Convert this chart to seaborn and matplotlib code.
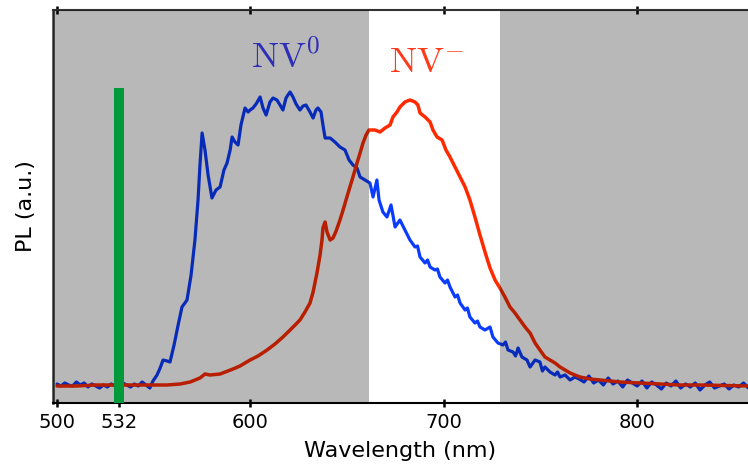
import matplotlib
matplotlib.use('Agg')
import matplotlib.pyplot as plt
import seaborn as sns
import pandas as pd
import numpy as np

# NV0 spectrum (blue) - wavelength in nm, PL in arbitrary units
nv0_baseline_nm = list(range(500, 550, 2))
nv0_baseline_pl = [2, 0, 3, 1, 0, 4, 1, 3, -1, 2, 0, -2, 1, -1, 2, 0, -2, 3, 1, -1, 2, 0, 4, 1, -2]
nv0_main_nm = [549.6, 551.7, 553.3, 554.8, 556.9, 558.4, 560.5, 562.6, 564.6, 567.2,
               569.3, 571.3, 572.9, 573.9, 575.0, 576.5, 578.1, 580.1, 582.2, 584.3,
               586.3, 587.9, 589.5, 590.5, 592.0, 593.6, 595.1, 597.2, 598.8, 599.8,
               601.3, 602.9, 605.0, 606.5, 608.1, 610.1, 611.7, 613.7, 615.3, 616.8,
               618.4, 619.4, 620.5, 622.0, 623.6, 625.6, 627.2, 628.7, 630.8, 632.4,
               633.9, 634.9, 636.5, 637.5, 638.6, 641.2, 643.7, 646.3, 648.9, 651.0,
               653.0, 655.1, 656.7, 659.2, 661.8, 663.4, 665.4, 666.5, 668.5, 670.6,
               672.7, 674.8, 677.3, 679.9, 682.5, 685.1, 686.4, 687.7, 690.3, 691.6,
               692.9, 695.4, 696.7, 698.0, 700.6, 701.9, 703.2, 705.8, 707.1, 708.4,
               711.0, 712.2, 713.5, 716.1, 717.4, 718.7, 721.3, 723.9, 725.4, 728.0,
               730.6, 731.9, 733.2, 735.8, 737.1, 738.4, 740.4, 743.0, 744.6, 747.2,
               749.7, 751.0, 752.3, 754.9, 757.5, 758.8, 760.1, 762.7, 765.3, 767.8]
nv0_main_pl = [5, 11, 18, 26, 25, 24, 41, 61, 79, 86,
               111, 146, 186, 221, 253, 236, 211, 188, 196, 199,
               216, 223, 236, 249, 244, 241, 261, 278, 274, 276,
               278, 282, 289, 278, 271, 284, 288, 286, 281, 276,
               288, 291, 294, 289, 282, 276, 280, 281, 274, 268,
               276, 278, 274, 261, 248, 248, 244, 239, 236, 226,
               221, 218, 209, 206, 203, 189, 206, 186, 174, 169,
               181, 159, 166, 156, 146, 139, 140, 129, 123, 126,
               119, 116, 117, 109, 103, 106, 99, 89, 91, 83,
               76, 78, 69, 63, 65, 59, 56, 59, 49, 43,
               41, 44, 36, 34, 30, 38, 29, 26, 19, 26,
               24, 15, 19, 14, 11, 14, 9, 11, 6, 9]
nv0_tail_nm = [770 + 2.5 * i for i in range(36)]
nv0_tail_pl = [7, 4, 10, 3, 6, 1, 8, 2, 5, -1, 6, 3, 0, 5, -2, 4, 1, -3,
               3, 0, 5, -2, 2, -1, 3, -4, 1, 4, -2, 0, 2, -3, 1, -1, 3, -2]

# NV- spectrum (red)
nvm_nm = [500, 510, 520, 530, 540, 550, 556.9, 563.6, 568.8, 573.9,
          576.5, 579.1, 584.3, 591.0, 594.6, 599.8, 603.9, 608.6, 612.7, 616.8,
          620.5, 623.6, 625.6, 628.2, 630.8, 632.4, 634.4, 636.0, 637.0, 637.5,
          638.6, 639.6, 641.2, 642.7, 644.3, 646.3, 647.9, 650.5, 653.0, 655.1,
          656.7, 658.2, 659.8, 661.3, 664.4, 667.0, 669.6, 672.2, 673.7, 675.8,
          677.3, 679.9, 682.5, 685.1, 686.6, 687.7, 690.3, 692.9, 694.4, 696.5,
          699.1, 701.1, 703.2, 705.8, 708.4, 711.0, 713.5, 716.1, 718.7, 721.3,
          723.9, 726.5, 729.0, 731.6, 734.2, 736.8, 739.4, 742.0, 744.6, 747.2,
          749.7, 752.3, 754.9, 757.5, 760.1, 762.7, 765.3, 767.8, 770.4, 775.6,
          780.8, 791.1, 801.4, 811.8, 822.1, 832.5, 857.5]
nvm_pl = [0, 0, 1, 1, 1, 1, 1, 2, 4, 8,
          12, 11, 12, 17, 20, 26, 30, 36, 42, 49,
          56, 62, 66, 74, 83, 94, 113, 131, 146, 158,
          164, 154, 146, 148, 155, 166, 176, 193, 209, 223,
          233, 243, 251, 256, 256, 254, 258, 261, 269, 274,
          279, 284, 286, 284, 281, 273, 269, 264, 256, 249,
          246, 236, 229, 219, 209, 199, 186, 169, 151, 134,
          118, 106, 98, 89, 79, 73, 66, 59, 53, 43,
          36, 29, 26, 23, 19, 16, 13, 11, 9, 7,
          6, 4, 3, 2, 1, 1, 0]

laser_nm = 532
laser_pl = 298
filter_edges = [661.3, 729.1]   # transmitted window (white)
tick_values = [500, 532, 600, 700, 800]
top_ticks = [500, 600, 700, 800]
x_range = (497.9, 857.3)
y_range = (-17, 376)

nv0 = pd.DataFrame({'wavelength': nv0_baseline_nm + nv0_main_nm + nv0_tail_nm,
                    'pl': nv0_baseline_pl + nv0_main_pl + nv0_tail_pl})
nvm = pd.DataFrame({'wavelength': nvm_nm, 'pl': nvm_pl})

sns.set_style('ticks')
plt.rcParams['font.family'] = ['DejaVu Sans']
plt.rcParams['mathtext.fontset'] = 'cm'
plt.rcParams['text.color'] = 'black'
plt.rcParams['axes.labelcolor'] = 'black'
plt.rcParams['xtick.color'] = 'black'

fig = plt.figure(figsize=(7.48, 4.71), dpi=100)
ax = fig.add_axes([53 / 748, 68 / 471, 695 / 748, 393 / 471])

sns.lineplot(data=nv0, x='wavelength', y='pl', sort=False, estimator=None,
             color='#0a3cff', linewidth=2.3, ax=ax, zorder=2)
sns.lineplot(data=nvm, x='wavelength', y='pl', sort=False, estimator=None,
             color='#ff2a00', linewidth=2.5, ax=ax, zorder=2)

# filtered-out regions drawn as a dark translucent overlay
ax.axvspan(x_range[0], filter_edges[0], color='black', alpha=0.28, lw=0, zorder=3)
ax.axvspan(filter_edges[1], x_range[1], color='black', alpha=0.28, lw=0, zorder=3)

# 532 nm excitation laser
ax.bar([laser_nm], [laser_pl - y_range[0]], bottom=y_range[0], width=5.2,
       color='#009a3a', edgecolor='none', linewidth=0, zorder=4)

ax.text(618.4, 318, r'$\mathrm{NV}^{0}$', color='#2e2eb8', fontsize=26,
        ha='center', va='baseline', zorder=5)
ax.text(691.3, 314, r'$\mathrm{NV}^{-}$', color='#ff3a1a', fontsize=26,
        ha='center', va='baseline', zorder=5)

ax.set_xlim(*x_range)
ax.set_ylim(*y_range)
ax.set_xticks(tick_values)
ax.set_xticklabels([str(v) for v in tick_values], fontsize=14, color='black')
ax.set_yticks([])
ax.tick_params(axis='x', direction='inout', length=6, width=1.8, color='black', pad=4)

top = ax.secondary_xaxis('top')
top.set_xticks(top_ticks)
top.set_xticklabels([])
top.tick_params(direction='inout', length=6, width=1.8, color='black')
top.spines['top'].set_linewidth(1.5)
top.spines['top'].set_color('#333333')

ax.set_xlabel('Wavelength (nm)', fontsize=16, labelpad=7)
ax.set_ylabel('PL (a.u.)', fontsize=16, labelpad=12)

ax.spines['right'].set_visible(False)
ax.spines['top'].set_visible(False)
ax.spines['left'].set_linewidth(1.8)
ax.spines['left'].set_color('#333333')
ax.spines['bottom'].set_linewidth(1.5)
ax.spines['bottom'].set_color('black')

fig.savefig('out.png', dpi=100)
